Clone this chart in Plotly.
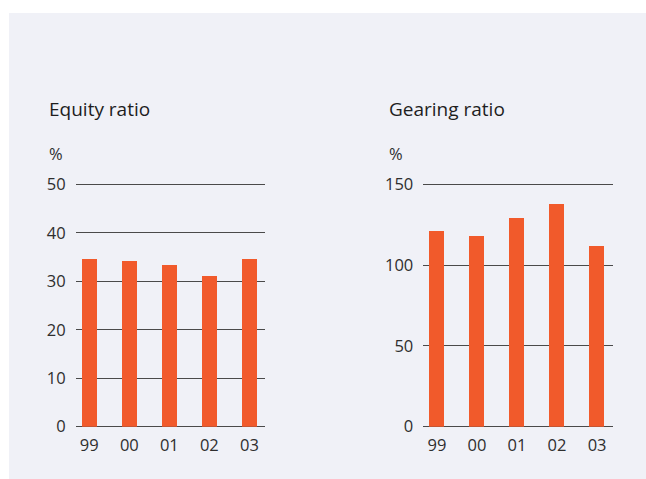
import plotly.graph_objects as go

# Balance-sheet ratios, 1999-2003
years = ["99", "00", "01", "02", "03"]
equity_ratio = [34.6, 34.2, 33.4, 31.1, 34.6]
gearing_ratio = [121.1, 118.0, 129.1, 137.8, 111.8]

equity_ticks = [0, 10, 20, 30, 40, 50]
gearing_ticks = [0, 50, 100, 150]

W, H = 646, 479
BAR = "#F15A2B"
PANEL = "#F0F1F7"
GRID = "#4a4a4a"
TEXT = "#2e2e2e"
FONT = "Open Sans"
TICK_SIZE = 16.5

fig = go.Figure()
fig.add_trace(go.Bar(x=list(range(len(years))), y=equity_ratio, marker_color=BAR,
                     marker_line_width=0, width=0.38, xaxis="x", yaxis="y",
                     hoverinfo="skip"))
fig.add_trace(go.Bar(x=list(range(len(years))), y=gearing_ratio, marker_color=BAR,
                     marker_line_width=0, width=0.38, xaxis="x2", yaxis="y2",
                     hoverinfo="skip"))

def px_x(v):
    return v / W

def px_y(v):
    return 1 - v / H

# plot area: value 0 sits at y=426.7 px, the top tick at y=184.3 px;
# the range runs 1% past the top tick so its gridline is drawn
y_bottom, y_top_tick, headroom = 426.7, 184.3, 1.01
y_top = y_bottom - (y_bottom - y_top_tick) * headroom

xcommon = dict(range=[-0.34, 4.39], tickmode="array", tickvals=list(range(len(years))),
               ticktext=years, showgrid=False, zeroline=False, showline=False,
               ticks="", ticklabelstandoff=7, fixedrange=True, automargin=False,
               tickfont=dict(family=FONT, size=TICK_SIZE, color=TEXT))
ycommon = dict(showgrid=True, gridcolor=GRID, gridwidth=1, zeroline=True,
               zerolinecolor=GRID, zerolinewidth=1, showline=False, ticks="",
               ticklabelstandoff=9, fixedrange=True, automargin=False,
               tickfont=dict(family=FONT, size=TICK_SIZE, color=TEXT))

ydom = [px_y(y_bottom), px_y(y_top)]
fig.update_layout(
    template="none",
    width=W, height=H, autosize=False,
    margin=dict(l=0, r=0, t=0, b=0, pad=0, autoexpand=False),
    paper_bgcolor="white", plot_bgcolor=PANEL,
    showlegend=False, bargap=0,
    xaxis=dict(domain=[px_x(75.7), px_x(265.0)], anchor="y", **xcommon),
    yaxis=dict(domain=ydom, anchor="x", range=[0, 50 * headroom],
               tickvals=equity_ticks, **ycommon),
    xaxis2=dict(domain=[px_x(423.3), px_x(612.7)], anchor="y2", **xcommon),
    yaxis2=dict(domain=ydom, anchor="x2", range=[0, 150 * headroom],
                tickvals=gearing_ticks, **ycommon),
)

# light panel behind both charts
fig.add_shape(type="rect", xref="paper", yref="paper", layer="below",
              x0=px_x(9), x1=px_x(646), y0=0, y1=px_y(13),
              fillcolor=PANEL, line_width=0)

for x0, title in [(47, "Equity ratio"), (387, "Gearing ratio")]:
    fig.add_annotation(text=title, xref="paper", yref="paper", x=px_x(x0), y=px_y(109),
                       xanchor="left", yanchor="middle", showarrow=False,
                       font=dict(family=FONT, size=19, color="#1e1e1e"))
    fig.add_annotation(text="%", xref="paper", yref="paper", x=px_x(x0), y=px_y(153),
                       xanchor="left", yanchor="middle", showarrow=False,
                       font=dict(family=FONT, size=TICK_SIZE, color=TEXT))

fig.write_html("out.html", config={"displayModeBar": False})
